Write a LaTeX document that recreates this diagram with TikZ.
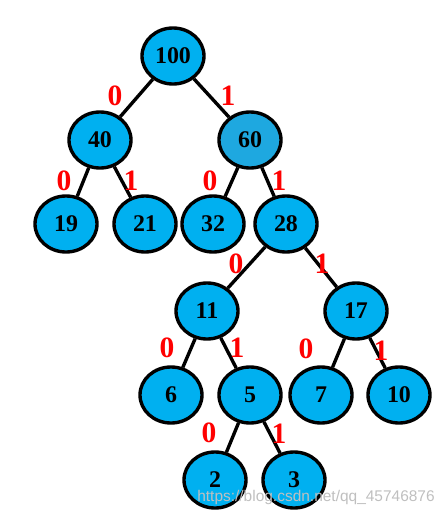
\documentclass[tikz,border=0pt]{standalone}
\usepackage{fontspec}
\setmainfont{Liberation Serif}
\newfontfamily\wmfont{Liberation Sans}
\usepackage{tikz}
\usepackage{xcolor}
\usetikzlibrary{arrows.meta, positioning, shapes.geometric}
\definecolor{nodecyan}{RGB}{0,176,240}
\definecolor{nodeblue}{RGB}{30,168,224}
\definecolor{bitred}{RGB}{255,0,0}

\begin{document}
\begin{tikzpicture}[
		x=0.025cm, y=-0.025cm,
		treenode/.style={ellipse, draw=black, line width=2.4pt, fill=nodecyan,
			minimum width=1.55cm, minimum height=1.4cm, inner sep=0pt,
			font=\fontsize{17}{20}\selectfont\bfseries},
		bit/.style={text=bitred, font=\fontsize{21}{24}\selectfont\bfseries, inner sep=0pt},
		branch/.style={line width=2.4pt, draw=black}
	]
		\useasboundingbox (0,0) rectangle (448,516);
		% tree nodes
		\node[treenode] (n100) at (173,56) {100};
		\node[treenode] (n40) at (100,140) {40};
		\node[treenode, fill=nodeblue] (n60) at (250,140) {60};
		\node[treenode] (n19) at (66,224) {19};
		\node[treenode] (n21) at (145,224) {21};
		\node[treenode] (n32) at (213,224) {32};
		\node[treenode] (n28) at (286,224) {28};
		\node[treenode] (n11) at (207,311) {11};
		\node[treenode] (n17) at (356,311) {17};
		\node[treenode] (n6) at (171,395) {6};
		\node[treenode] (n5) at (250,395) {5};
		\node[treenode] (n7) at (321,395) {7};
		\node[treenode] (n10) at (399,395) {10};
		\node[treenode] (n2) at (215,480) {2};
		\node[treenode] (n3) at (294,480) {3};
		% branches
		\draw[branch] (n100) -- (n40);
		\draw[branch] (n100) -- (n60);
		\draw[branch] (n40) -- (n19);
		\draw[branch] (n40) -- (n21);
		\draw[branch] (n60) -- (n32);
		\draw[branch] (n60) -- (n28);
		\draw[branch] (n28) -- (n11);
		\draw[branch] (n28) -- (n17);
		\draw[branch] (n11) -- (n6);
		\draw[branch] (n11) -- (n5);
		\draw[branch] (n17) -- (n7);
		\draw[branch] (n17) -- (n10);
		\draw[branch] (n5) -- (n2);
		\draw[branch] (n5) -- (n3);
		% bit labels
		\node[bit] (b1) at (115,96) {0};
		\node[bit] (b2) at (228,96) {1};
		\node[bit] (b3) at (64,181) {0};
		\node[bit] (b4) at (131,181) {1};
		\node[bit] (b5) at (210,181) {0};
		\node[bit] (b6) at (279,181) {1};
		\node[bit] (b7) at (236,264) {0};
		\node[bit] (b8) at (322,264) {1};
		\node[bit] (b9) at (167,348) {0};
		\node[bit] (b10) at (237,348) {1};
		\node[bit] (b11) at (306,349) {0};
		\node[bit] (b12) at (381,351) {1};
		\node[bit] (b13) at (209,433) {0};
		\node[bit] (b14) at (279,434) {1};
		% watermark
		\node[text=black!25, font=\wmfont\fontsize{11}{13}\selectfont, inner sep=0pt] (mark) at (316,497) {https://blog.csdn.net/qq\_45746876};
	\end{tikzpicture}
\end{document}
